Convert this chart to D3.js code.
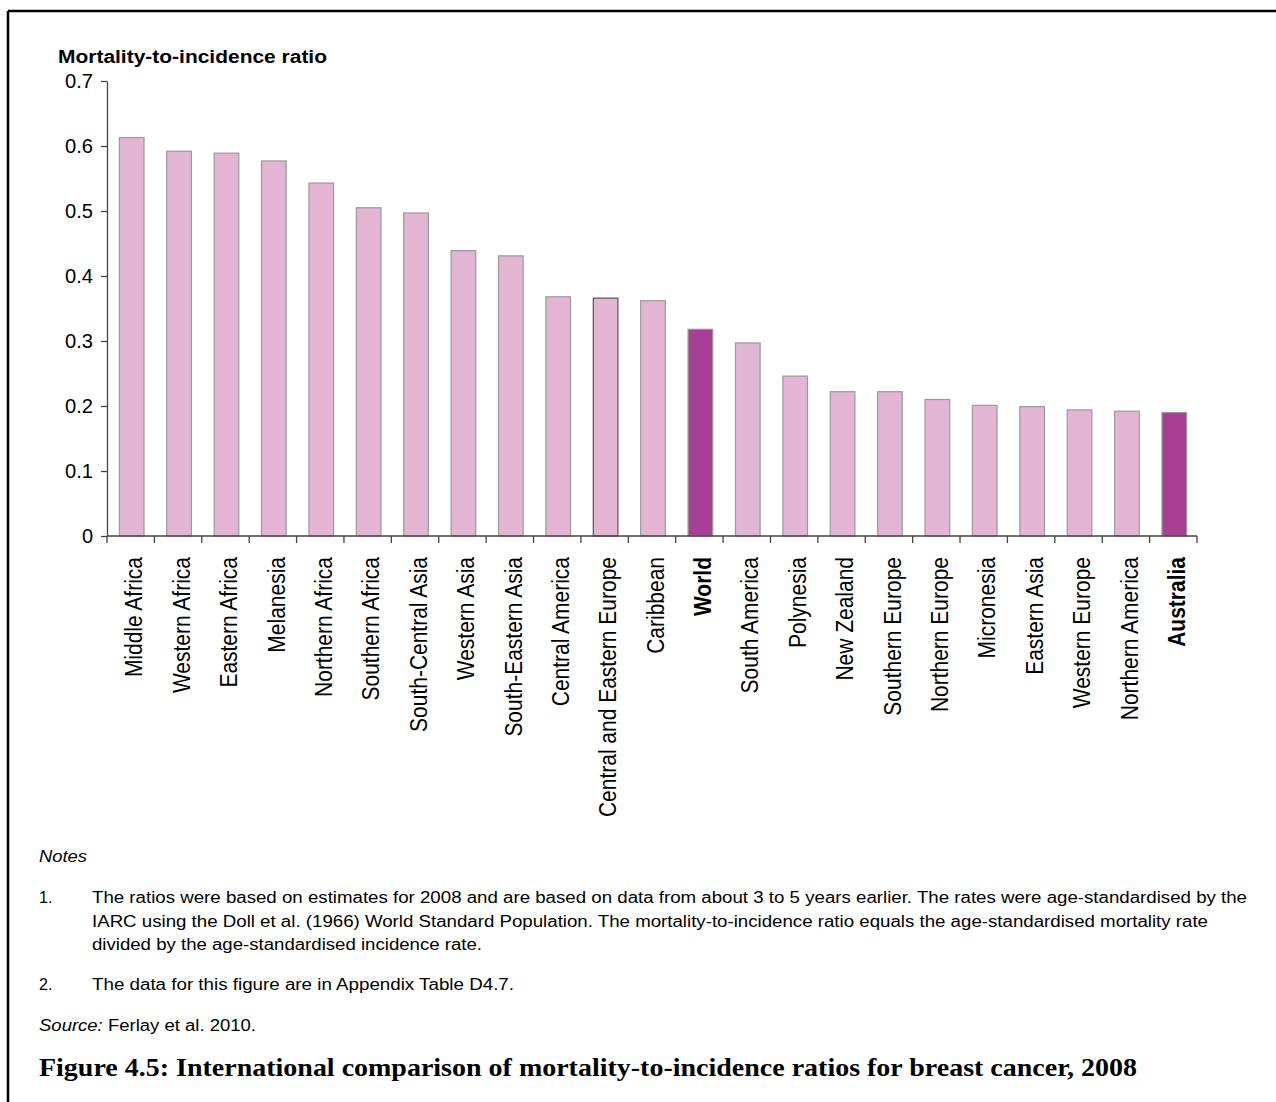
<!DOCTYPE html>
<html>
<head>
<meta charset="utf-8">
<script src="https://cdn.jsdelivr.net/npm/d3@7"></script>
<style>
  html, body { margin: 0; padding: 0; background: #fff; }
  svg { display: block; }
</style>
</head>
<body>
<svg id="chart" width="1276" height="1102" font-family="'Liberation Sans', Arial, sans-serif"></svg>
<script>
// ---- Data ----
const categories = [
  "Middle Africa", "Western Africa", "Eastern Africa", "Melanesia", "Northern Africa",
  "Southern Africa", "South-Central Asia", "Western Asia", "South-Eastern Asia",
  "Central America", "Central and Eastern Europe", "Caribbean", "World", "South America",
  "Polynesia", "New Zealand", "Southern Europe", "Northern Europe", "Micronesia",
  "Eastern Asia", "Western Europe", "Northern America", "Australia"
];
const ratios = [
  0.613, 0.592, 0.589, 0.577, 0.543,
  0.505, 0.497, 0.439, 0.431,
  0.368, 0.366, 0.362, 0.318, 0.297,
  0.246, 0.222, 0.222, 0.210, 0.201,
  0.199, 0.194, 0.192, 0.190
];
const highlighted = ["World", "Australia"];
const yTicks = [0, 0.1, 0.2, 0.3, 0.4, 0.5, 0.6, 0.7];
const yTitle = "Mortality-to-incidence ratio";
const notesHeading = "Notes";
const note1Lines = [
  "The ratios were based on estimates for 2008 and are based on data from about 3 to 5 years earlier. The rates were age-standardised by the",
  "IARC using the Doll et al. (1966) World Standard Population. The mortality-to-incidence ratio equals the age-standardised mortality rate",
  "divided by the age-standardised incidence rate."
];
const note2 = "The data for this figure are in Appendix Table D4.7.";
const sourceLabel = "Source:";
const sourceText = " Ferlay et al. 2010.";
const caption = "Figure 4.5: International comparison of mortality-to-incidence ratios for breast cancer, 2008";

// ---- Layout ----
const sans = "'Liberation Sans', Arial, sans-serif";
const svg = d3.select("#chart");
const plot = { left: 107, right: 1197, top: 81, bottom: 536 };

// frame (top and left rules)
svg.append("line").attr("x1", 8).attr("x2", 1276).attr("y1", 11).attr("y2", 11)
  .attr("stroke", "#000").attr("stroke-width", 2.5);
svg.append("line").attr("x1", 8).attr("x2", 8).attr("y1", 11).attr("y2", 1102)
  .attr("stroke", "#000").attr("stroke-width", 2.5);

const x = d3.scaleBand().domain(categories).range([plot.left, plot.right]).paddingInner(0).paddingOuter(0);
const y = d3.scaleLinear().domain([0, 0.7]).range([plot.bottom, plot.top]);
const barW = x.bandwidth() * 0.52;

// y-axis title
svg.append("text").attr("x", 58).attr("y", 63)
  .attr("font-size", 18).attr("font-weight", "bold").attr("fill", "#000")
  .attr("textLength", 269).attr("lengthAdjust", "spacingAndGlyphs")
  .text(yTitle);

// bars
svg.append("g").selectAll("rect").data(categories).join("rect")
  .attr("x", d => x(d) + x.bandwidth() / 2 - barW / 2 + 1)
  .attr("width", barW)
  .attr("y", (d, i) => y(ratios[i]))
  .attr("height", (d, i) => y(0) - y(ratios[i]))
  .attr("fill", d => highlighted.includes(d) ? "#A93E95" : "#E3B5D2")
  .attr("stroke", d => d === "Central and Eastern Europe" ? "#555" : "#9a9a9a")
  .attr("stroke-width", 1.2);

// y axis
const yAxis = svg.append("g").attr("transform", `translate(${plot.left},0)`)
  .call(d3.axisLeft(y).tickValues(yTicks).tickSize(6).tickSizeOuter(0).tickPadding(8)
    .tickFormat(d => d === 0 ? "0" : d3.format(".1f")(d)));
yAxis.attr("font-family", sans);
yAxis.select(".domain").attr("stroke", "#444").attr("stroke-width", 1.3);
yAxis.selectAll(".tick line").attr("stroke", "#444").attr("stroke-width", 1.3);
yAxis.selectAll(".tick text").attr("font-size", 20).attr("fill", "#000")
  .attr("textLength", 28).attr("lengthAdjust", "spacingAndGlyphs");
yAxis.selectAll(".tick text").filter(d => d === 0).attr("textLength", null);

// x axis (ticks at category boundaries)
const xg = svg.append("g");
xg.append("line").attr("x1", plot.left).attr("x2", plot.right)
  .attr("y1", y(0)).attr("y2", y(0)).attr("stroke", "#444").attr("stroke-width", 1.3);
const boundaries = categories.map(c => x(c)).concat([x(categories[categories.length - 1]) + x.step()]);
xg.selectAll("line.tk").data(boundaries).join("line").attr("class", "tk")
  .attr("x1", d => d).attr("x2", d => d)
  .attr("y1", y(0)).attr("y2", y(0) + 7)
  .attr("stroke", "#444").attr("stroke-width", 1.3);

// x labels
xg.selectAll("text").data(categories).join("text")
  .attr("transform", d => `translate(${x(d) + x.bandwidth() / 2 + 3},557) rotate(-90) scale(1,1.15)`)
  .attr("text-anchor", "end")
  .attr("dy", "0.36em")
  .attr("font-size", 21)
  .attr("font-weight", d => highlighted.includes(d) ? "bold" : "normal")
  .attr("fill", "#000")
  .text(d => d);

// notes
const notes = svg.append("g").attr("fill", "#000");
notes.append("text").attr("x", 39).attr("y", 862).attr("font-size", 16)
  .attr("font-style", "italic").attr("textLength", 48).attr("lengthAdjust", "spacingAndGlyphs")
  .text(notesHeading);
notes.append("text").attr("x", 39).attr("y", 903).attr("font-size", 16).text("1.");
const noteWidths = [1155, 1116, 390];
note1Lines.forEach((t, i) => {
  notes.append("text").attr("x", 92).attr("y", 903 + i * 23.5).attr("font-size", 16)
    .attr("textLength", noteWidths[i]).attr("lengthAdjust", "spacingAndGlyphs").text(t);
});
notes.append("text").attr("x", 39).attr("y", 990).attr("font-size", 16).text("2.");
notes.append("text").attr("x", 92).attr("y", 990).attr("font-size", 16)
  .attr("textLength", 422).attr("lengthAdjust", "spacingAndGlyphs").text(note2);
const src = notes.append("text").attr("x", 39).attr("y", 1031).attr("font-size", 16)
  .attr("textLength", 217).attr("lengthAdjust", "spacingAndGlyphs");
src.append("tspan").attr("font-style", "italic").text(sourceLabel);
src.append("tspan").text(sourceText);

// caption
svg.append("text").attr("x", 39).attr("y", 1076)
  .attr("font-family", "'Liberation Serif', 'Times New Roman', serif")
  .attr("font-size", 25).attr("font-weight", "bold").attr("fill", "#000")
  .attr("textLength", 1098).attr("lengthAdjust", "spacingAndGlyphs")
  .text(caption);
</script>
</body>
</html>
